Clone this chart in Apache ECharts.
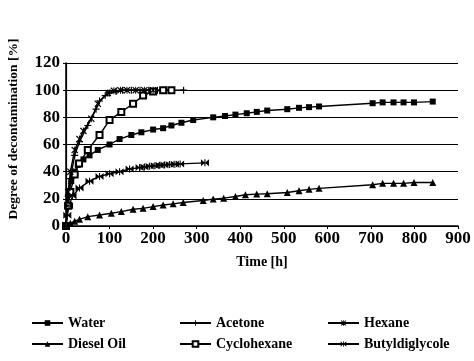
<!DOCTYPE html>
<html><head><meta charset="utf-8">
<script src="https://cdn.jsdelivr.net/npm/echarts@6/dist/echarts.min.js"></script>
<style>html,body{margin:0;padding:0;background:#fff}#c{width:474px;height:361px}</style>
</head><body><div id="c"></div>
<script>
const xTicks = [0,100,200,300,400,500,600,700,800,900];
const yTicks = [0,20,40,60,80,100,120];
const seriesNames = ['Water','Diesel Oil','Acetone','Cyclohexane','Hexane','Butyldiglycole'];
const water = [[0,0],[3,15],[7,25],[12,33],[20,40],[27,45],[40,49],[54,52],[73,56],[100,60],[123,64],[150,67],[173,69],[200,71],[223,72],[242,74],[265,76],[292,78],[338,80],[365,81],[389,82],[415,83],[438,84],[462,85],[508,86],[535,87],[558,87.5],[581,88],[704,90.4],[727,91],[752,91],[775,91],[799,91],[842,91.6]];
const dieselOil = [[0,0],[10,2],[20,3.5],[31,4.9],[50,6.9],[77,8.1],[104,9.4],[127,10.6],[154,12.3],[177,13],[200,14.3],[223,15.5],[246,16.3],[269,17.3],[315,18.8],[338,19.8],[362,20.5],[389,21.7],[412,23],[438,23.5],[462,23.7],[508,24.7],[535,26],[558,27],[581,27.7],[704,30.4],[727,31.4],[752,31.4],[775,31.4],[799,32],[842,32]];
const acetone = [[0,0],[5,22],[10,35],[20,52],[31,62],[50,74],[69,86],[77,92],[90,96],[100,98],[115,99],[130,100],[150,100],[170,100],[190,100],[210,100],[230,100],[270,100]];
const cyclohexane = [[0,0],[5,15],[10,25],[20,38],[30,46],[50,56],[77,67],[100,78],[127,84],[154,90],[177,96],[200,99],[223,100],[242,100]];
const hexane = [[0,0],[5,25],[10,40],[20,56],[31,64],[40,70],[58,79],[73,90],[96,98],[110,99.5],[125,100],[140,100],[160,100],[180,100],[200,100]];
const butyldiglycole = [[0,0],[3,8],[7,15],[15,22],[31,28],[54,33],[77,36.5],[100,38.5],[123,40],[146,42],[169,43],[180,43.5],[192,44],[204,44.3],[215,44.7],[226,45],[238,45.2],[250,45.5],[262,45.7],[319,46.5]];

const FONT = '"Liberation Serif", "DejaVu Serif", serif';
const plusPath = 'path://M4.2,0h1.6v10h-1.6z M0,4.2h10v1.6h-10z';
const starPath = 'path://M0,1.2L1.2,0L5,3.8L8.8,0L10,1.2L6.2,5L10,8.8L8.8,10L5,6.2L1.2,10L0,8.8L3.8,5z M4.3,0h1.4v10h-1.4z';
const bowPath = 'path://M0,0L5,5L0,10Z M10,0L5,5L10,10Z M4.3,0h1.4v10h-1.4z';

function mk(name, data, symbol, size) {
  return {
    name, type: 'line', data, symbol, symbolSize: size, showSymbol: true,
    xAxisIndex: 0, yAxisIndex: 0,
    lineStyle: { color: '#000', width: 1.4 },
    itemStyle: { color: '#000', borderColor: '#000', borderWidth: symbol === 'emptyRect' ? 1 : 0 },
    animation: false
  };
}

const chart = echarts.init(document.getElementById('c'));
const legendCommon = {
  orient: 'vertical', top: 311, itemWidth: 31, itemHeight: 7, itemGap: 7,
  textStyle: { fontFamily: FONT, fontWeight: 'bold', fontSize: 14, color: '#000' },
  selectedMode: false
};
const frameAxis = {
  type: 'value', axisLine: { show: true, lineStyle: { color: '#000', width: 1.2 } },
  axisTick: { show: false }, axisLabel: { show: false }, splitLine: { show: false }
};
chart.setOption({
  backgroundColor: '#fff',
  animation: false,
  grid: { left: 66, right: 16, top: 63, bottom: 135 },
  xAxis: [{
    type: 'value', min: xTicks[0], max: xTicks[xTicks.length-1], interval: 100,
    name: 'Time [h]', nameLocation: 'middle', nameGap: 29,
    nameTextStyle: { fontFamily: FONT, fontWeight: 'bold', fontSize: 14, color: '#000' },
    axisLine: { show: true, lineStyle: { color: '#000', width: 1.5 } },
    axisTick: { show: true, length: 3, inside: false, lineStyle: { color: '#000' } },
    axisLabel: { fontFamily: FONT, fontWeight: 'bold', fontSize: 17, color: '#000', margin: 4 },
    splitLine: { show: false }
  }, Object.assign({ position: 'top', min: 0, max: 900 }, frameAxis)],
  yAxis: [{
    type: 'value', min: yTicks[0], max: yTicks[yTicks.length-1], interval: 20,
    axisLine: { show: true, lineStyle: { color: '#000', width: 1.5 } },
    axisTick: { show: true, length: 3, lineStyle: { color: '#000' } },
    axisLabel: { fontFamily: FONT, fontWeight: 'bold', fontSize: 17, color: '#000', margin: 6 },
    splitLine: { show: true, lineStyle: { color: '#000', width: 1 } }
  }, Object.assign({ position: 'right', min: 0, max: 120 }, frameAxis)],
  graphic: [
    { type: 'text', x: 14, y: 129, rotation: Math.PI / 2,
      style: { text: 'Degree of decontamination [%]', font: 'bold 13.5px ' + FONT, fill: '#000', textAlign: 'center', textVerticalAlign: 'middle' } }
  ],
  legend: [
    Object.assign({ left: 26, data: ['Water', 'Diesel Oil'] }, legendCommon),
    Object.assign({ left: 174, data: ['Acetone', 'Cyclohexane'] }, legendCommon),
    Object.assign({ left: 322, data: ['Hexane', 'Butyldiglycole'] }, legendCommon)
  ],
  series: [
    mk(seriesNames[0], water, 'rect', 6),
    mk(seriesNames[1], dieselOil, 'triangle', 7),
    mk(seriesNames[2], acetone, plusPath, 7),
    mk(seriesNames[3], cyclohexane, 'emptyRect', 6),
    mk(seriesNames[4], hexane, starPath, 7),
    mk(seriesNames[5], butyldiglycole, bowPath, [8, 7])
  ]
});
</script></body></html>
